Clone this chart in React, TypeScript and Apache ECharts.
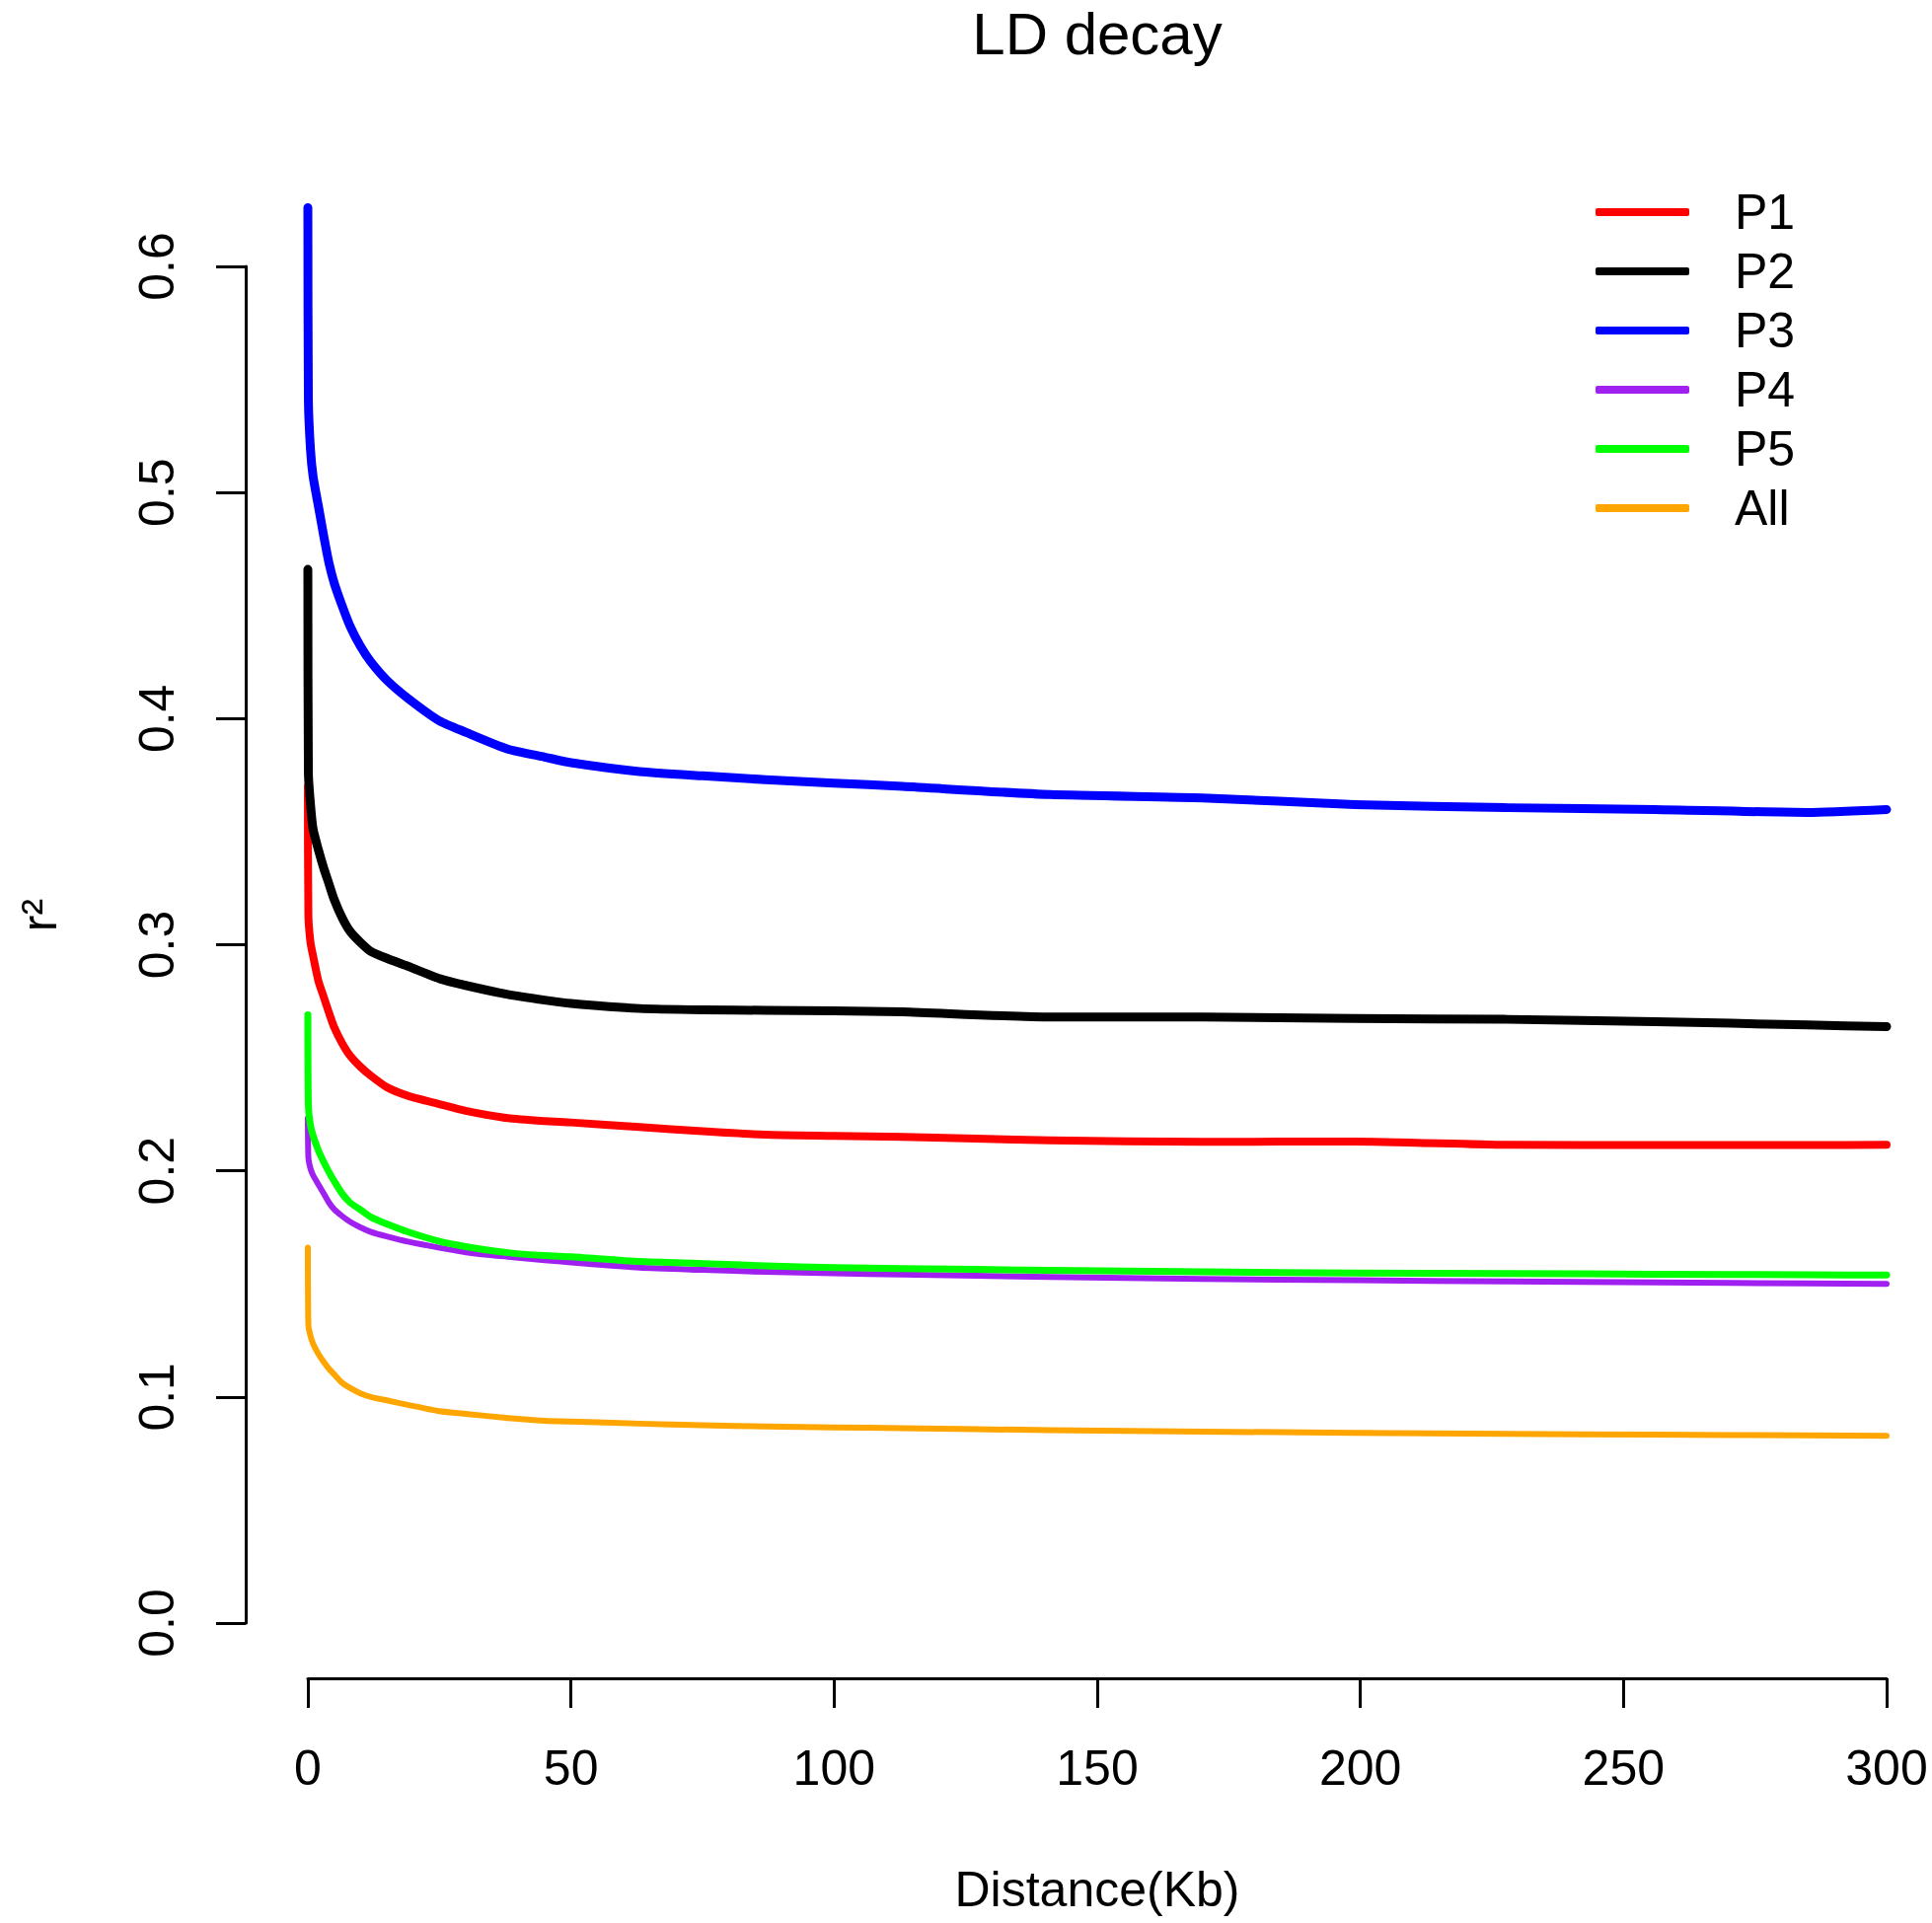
import React, { useEffect, useRef } from "react";
import * as echarts from "echarts";

const distanceKb = [0, 0.1, 0.5, 1, 2, 3, 4, 5, 6.5, 8, 10, 12, 15, 19, 25, 30, 38, 45, 50, 63, 75, 87, 100, 113, 141, 170, 199, 228, 256, 285, 300];

const p1 = [0.370, 0.313, 0.301, 0.295, 0.284, 0.277, 0.270, 0.2635, 0.2565, 0.251, 0.246, 0.242, 0.237, 0.2332, 0.2295, 0.2265, 0.2233, 0.222, 0.2214, 0.2194, 0.2175, 0.216, 0.2155, 0.215, 0.2135, 0.2128, 0.213, 0.2115, 0.2114, 0.2114, 0.2115];
const p2 = [0.466, 0.376, 0.362, 0.351, 0.342, 0.334, 0.327, 0.320, 0.312, 0.306, 0.301, 0.297, 0.294, 0.2905, 0.285, 0.282, 0.278, 0.2755, 0.274, 0.2718, 0.2712, 0.271, 0.2708, 0.2703, 0.268, 0.268, 0.2674, 0.267, 0.266, 0.2645, 0.2638];
const p3 = [0.626, 0.541, 0.519, 0.507, 0.494, 0.481, 0.469, 0.460, 0.450, 0.441, 0.432, 0.425, 0.417, 0.409, 0.399, 0.394, 0.3865, 0.383, 0.3805, 0.3766, 0.3747, 0.373, 0.3715, 0.370, 0.3664, 0.3649, 0.362, 0.3606, 0.3598, 0.3585, 0.3598];
const p4 = [0.2233, 0.2058, 0.201, 0.198, 0.194, 0.190, 0.186, 0.183, 0.180, 0.1775, 0.175, 0.173, 0.171, 0.1687, 0.166, 0.164, 0.162, 0.1605, 0.1595, 0.1572, 0.1562, 0.1553, 0.1547, 0.1541, 0.1531, 0.1522, 0.1516, 0.1511, 0.1507, 0.1502, 0.150];
const p5 = [0.269, 0.229, 0.220, 0.2155, 0.209, 0.204, 0.1995, 0.1955, 0.190, 0.186, 0.1828, 0.1795, 0.1765, 0.173, 0.1688, 0.1665, 0.1638, 0.1625, 0.162, 0.1599, 0.159, 0.158, 0.1572, 0.1568, 0.156, 0.1553, 0.1548, 0.1546, 0.1543, 0.154, 0.1539];
const all = [0.166, 0.1316, 0.127, 0.1235, 0.119, 0.1155, 0.1125, 0.110, 0.1063, 0.104, 0.1016, 0.100, 0.0985, 0.0965, 0.0937, 0.0925, 0.0907, 0.0895, 0.0891, 0.0882, 0.0875, 0.0869, 0.0865, 0.0862, 0.0853, 0.0847, 0.0841, 0.0837, 0.0833, 0.083, 0.0828];

const seriesNames = ["P1", "P2", "P3", "P4", "P5", "All"];
const seriesValues = [p1, p2, p3, p4, p5, all];
const seriesColors = ["#FF0000", "#000000", "#0000FF", "#A020F0", "#00FF00", "#FFA500"];
const seriesWidths = [8, 9, 9, 6, 7, 6];

const xTicks = [0, 50, 100, 150, 200, 250, 300];
const yTicks = [0, 0.1, 0.2, 0.3, 0.4, 0.5, 0.6];

const FONT = "'Liberation Sans', Arial, Helvetica, sans-serif";

export default function App() {
  const ref = useRef<HTMLDivElement>(null);

  useEffect(() => {
    document.body.style.margin = "0";
    if (!ref.current) return;
    const chart = echarts.init(ref.current, undefined, { renderer: "svg" });

    const series = seriesNames.map((name, i) => ({
      name,
      type: "line",
      data: distanceKb.map((d, j) => [d, seriesValues[i][j]]),
      showSymbol: false,
      symbol: "none",
      clip: false,
      smooth: 0.2,
      lineStyle: { color: seriesColors[i], width: seriesWidths[i], cap: "round", join: "round" },
      itemStyle: { color: seriesColors[i] },
      emphasis: { disabled: true },
    }));

    chart.setOption({
      animation: false,
      backgroundColor: "#ffffff",
      textStyle: { fontFamily: FONT, color: "#000" },
      title: {
        text: "LD decay",
        left: 1112,
        top: 4,
        textAlign: "center",
        padding: 0,
        textStyle: { fontFamily: FONT, fontSize: 60, fontWeight: "normal", color: "#000", lineHeight: 60 },
      },
      legend: {
        orient: "vertical",
        left: 1617,
        top: 190,
        padding: 0,
        itemGap: 10,
        itemWidth: 95,
        itemHeight: 8,
        icon: "roundRect",
        selectedMode: false,
        data: seriesNames.map((n, i) => ({ name: n, icon: "roundRect", itemStyle: { color: seriesColors[i] } })),
        textStyle: { fontFamily: FONT, fontSize: 50, color: "#000", lineHeight: 50, padding: [0, 0, 0, 41] },
      },
      grid: { left: 312, right: 46, top: 270, bottom: 304, containLabel: false },
      xAxis: {
        type: "value",
        min: xTicks[0],
        max: xTicks[xTicks.length - 1],
        interval: 50,
        offset: 56,
        name: "Distance(Kb)",
        nameLocation: "middle",
        nameGap: 189,
        nameTextStyle: { fontFamily: FONT, fontSize: 50, color: "#000", lineHeight: 50 },
        axisLine: { show: true, onZero: false, lineStyle: { color: "#000", width: 3 } },
        axisTick: { show: true, length: 30, lineStyle: { color: "#000", width: 3 } },
        axisLabel: { fontFamily: FONT, fontSize: 50, color: "#000", margin: 66, lineHeight: 50 },
        splitLine: { show: false },
      },
      yAxis: {
        type: "value",
        min: yTicks[0],
        max: yTicks[yTicks.length - 1],
        interval: 0.1,
        offset: 63,
        name: "r²",
        nameLocation: "middle",
        nameRotate: 90,
        nameGap: 184,
        nameTextStyle: { fontFamily: FONT, fontSize: 50, color: "#000", lineHeight: 50, padding: [0, 0, 0, 60] },
        axisLine: { show: true, onZero: false, lineStyle: { color: "#000", width: 3 } },
        axisTick: { show: true, length: 30, lineStyle: { color: "#000", width: 3 } },
        axisLabel: {
          fontFamily: FONT,
          fontSize: 50,
          color: "#000",
          rotate: 90,
          margin: 65,
          lineHeight: 50,
          formatter: (v: number) => v.toFixed(1),
        },
        splitLine: { show: false },
      },
      series,
    });

    return () => chart.dispose();
  }, []);

  return <div ref={ref} style={{ width: 1958, height: 1949 }} />;
}
